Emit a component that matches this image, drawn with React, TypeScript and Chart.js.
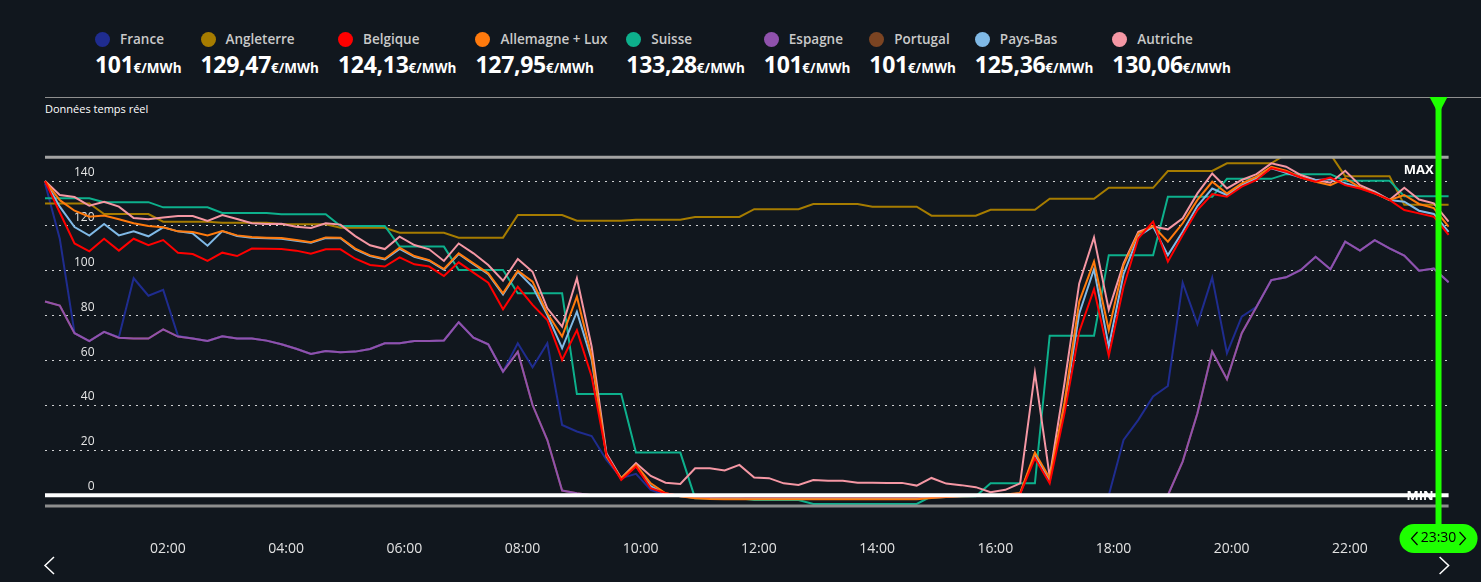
import React, { useEffect, useRef } from 'react';
import { Chart, registerables } from 'chart.js';

Chart.register(...registerables);

// ---------- categories & ticks ----------
const TIMES: string[] = Array.from({ length: 96 }, (_, i) =>
  `${String(Math.floor(i / 4)).padStart(2, '0')}:${String((i % 4) * 15).padStart(2, '0')}`
);
const X_TICKS = ['02:00', '04:00', '06:00', '08:00', '10:00', '12:00', '14:00', '16:00', '18:00', '20:00', '22:00'];
const Y_TICKS = [0, 20, 40, 60, 80, 100, 120, 140];
const Y_MIN = -4.8;
const Y_MAX = 150.6;
const MIN_LINE = 0;
const CURSOR_TIME = '23:30';

const NAMES = ['France', 'Angleterre', 'Belgique', 'Allemagne + Lux', 'Suisse', 'Espagne', 'Portugal', 'Pays-Bas', 'Autriche'];
const COLORS = ['#1f2c8f', '#a67c00', '#ff0000', '#ff7a0d', '#0db08c', '#9052ad', '#7b4422', '#80b9e6', '#f597a4'];
const DRAW_ORDER = [7, 6, 1, 2, 5, 0, 8, 3, 4];

// ---------- series (€/MWh, 15-min steps) ----------
const FRANCE = [
  139, 114.3, 72.2, 68.7, 72.8, 70.4, 96.7, 88.9, 91.5, 71,
  69.8, 68.7, 70.8, 69.8, 69.8, 68.9, 67.3, 65.3, 63, 64.3, 63.7, 64, 65.2, 67.7, 67.7, 68.7, 68.7, 69, 77.1, 70.2, 67.3,
  55.1, 67.7, 57, 67.7, 31.3, 28.4, 26.4, 15.7, 7.6, 9.5, 2.4,
  0, 0, 0, 0, 0, 0, 0, 0, 0, 0, 0, 0, 0, 0, 0, 0, 0, 0, 0, 0, 0, 0, 0, 0, 0, 0, 0, 0, 0, 0, 0,
  24.6, 33.6, 44, 48.7, 94.7, 76.3, 97, 63.3, 79.6, 84,
  95.9, 97.1, 100.4, 106.3, 100.7, 113, 109, 113.7, 110, 106.8, 100.1, 101, 94.9,
];
const ANGLETERRE = [
  130, 130, 130, 130, 125.3, 125.3, 125.3, 125.3, 121.9, 121.9, 121.9, 121.9,
  121.4, 121.4, 121.4, 121.4, 120.8, 120.8, 120.8, 120.8, 119.2, 119.2, 119.2, 119.2,
  117, 117, 117, 117, 114.8, 114.8, 114.8, 114.8, 124.9, 124.9, 124.9, 124.9,
  122.3, 122.3, 122.3, 122.3, 122.8, 122.8, 122.8, 122.8, 124, 124, 124, 124,
  127.5, 127.5, 127.5, 127.5, 129.8, 129.8, 129.8, 129.8, 128.6, 128.6, 128.6, 128.6,
  124.6, 124.6, 124.6, 124.6, 127.2, 127.2, 127.2, 127.2, 132.1, 132.1, 132.1, 132.1,
  137, 137, 137, 137, 144.5, 144.5, 144.5, 144.5, 147.9, 147.9, 147.9, 147.9,
  152, 152, 152, 152, 142.2, 142.2, 142.2, 142.2, 129.47, 129.47, 129.47, 129.47,
];
const BELGIQUE = [
  140, 126, 112.2, 108.7, 114.3, 109, 114.3, 111.4, 113.7, 108.1, 107.5, 104.4, 108.1, 106.6, 109.9, 109.8,
  109.7, 109, 107.6, 109.6, 109.6, 105.4, 102.6, 101.9, 106, 102.9, 101.9, 97.7, 103.8, 99.2, 94.7, 82.9,
  92.9, 84.8, 78.1, 60.3, 73.6, 52.9, 18, 6.8, 12.8, 3.1, 0.9,
  -0.3, -0.5, -0.6, -0.6, -0.6, -0.6, -0.6, -0.6, -0.6, -0.6, -0.6, -0.6, -0.6, -0.6, -0.6, -0.6, -0.6,
  -0.5, -0.4, -0.3, -0.2, 0, 0, 0.5,
  16.5, 5.3, 36.5, 72.9, 91.8, 62.1, 92.9, 114.5, 121.9, 104.1, 116, 127.1, 134.2, 133, 137.5, 140.5,
  145.8, 144.2, 141.6, 139.7, 141.6, 138.2, 136.7, 134.5, 131.6, 127.1, 125.6, 124.13, 116,
];
const ALLEMAGNE = [
  140, 131.5, 126.8, 124.1, 124.7, 123, 121.2, 120, 119.4, 117.6, 117.3, 115.8, 117.7, 115.8, 115.1, 114.8,
  114.6, 113.7, 112.8, 114.9, 114.8, 109.9, 106.9, 105.4, 110.3, 106.6, 104.8, 100.8, 107.8, 103.3, 98.9, 90,
  100.1, 95.2, 81.1, 70.7, 88.5, 61.8, 17.2, 7.6, 13.5, 5.3, 0.9,
  -0.5, -1.4, -1.7, -1.8, -1.8, -1.8, -1.8, -1.8, -1.8, -1.8, -1.8, -1.8, -1.8, -1.8, -1.8, -1.8, -1.8,
  -1.2, -0.8, -0.5, -0.3, 0, 0.3, 1,
  19, 7.6, 41.1, 86.3, 104.1, 73.6, 102.6, 116.7, 120, 113, 121.2, 131.6, 139.7, 134.5, 139, 142,
  146.4, 144.6, 141.6, 139.7, 138.2, 141.2, 137.2, 134.5, 131.6, 133.8, 129.8, 127.95, 119.7,
];
const SUISSE = [
  132.3, 132.3, 132.3, 132.3, 130.6, 130.6, 130.6, 130.6, 128.3, 128.3, 128.3, 128.3,
  125.8, 125.8, 125.8, 125.8, 125.2, 125.2, 125.2, 125.2, 120, 120, 120, 120,
  110.8, 110.8, 110.8, 110.8, 100.4, 100.4, 100.4, 100.4, 90, 90, 90, 90,
  45.1, 45.1, 45.1, 45.1, 19, 19, 19, 19, -1.3, -1.3, -1.3, -1.3,
  -2.1, -2.1, -2.1, -2.1, -3.9, -3.9, -3.9, -3.9, -3.9, -3.9, -3.9, -3.9,
  -0.5, -0.5, -0.5, -0.5, 5.3, 5.3, 5.3, 5.3, 71.1, 71.1, 71.1, 71.1,
  107, 107, 107, 107, 133, 133, 133, 133, 141, 141, 141, 141,
  143.1, 143.1, 143.1, 143.1, 140.2, 140.2, 140.2, 140.2, 133.28, 133.28, 133.28, 133.28,
];
const ESPAGNE = [
  86.3, 84.5, 72.2, 68.7, 72.8, 70.2, 69.8, 69.8, 73.9, 70.7, 69.8, 68.7, 70.8, 69.8, 69.8, 68.9,
  67.3, 65.3, 63, 64.3, 63.7, 64, 65.2, 67.7, 67.7, 68.7, 68.7, 69, 77.1, 70.2, 67.3, 55.1,
  64, 40.2, 24.6, 2.1, 0.9,
  0, 0, 0, 0, 0, 0, 0, 0, 0, 0, 0, 0, 0, 0, 0, 0, 0, 0, 0, 0,
  0, 0, 0, 0, 0, 0, 0, 0, 0, 0, 0, 0, 0, 0, 0, 0, 0, 0, 0, 0,
  15, 36.5, 64, 51.7, 72.2, 84, 95.9, 97.1, 100.4, 106.3, 100.7, 113, 109, 113.7, 110, 106.8,
  100.1, 101, 94.9,
];
const PORTUGAL = [
  86.3, 84.5, 72.2, 68.7, 72.8, 70.2, 69.8, 69.8, 73.9, 70.7, 69.8, 68.7, 70.8, 69.8, 69.8, 68.9,
  67.3, 65.3, 63, 64.3, 63.7, 64, 65.2, 67.7, 67.7, 68.7, 68.7, 69, 77.1, 70.2, 67.3, 55.1,
  64, 40.2, 24.6, 2.1, 0.9,
  0, 0, 0, 0, 0, 0, 0, 0, 0, 0, 0, 0, 0, 0, 0, 0, 0, 0, 0, 0,
  0, 0, 0, 0, 0, 0, 0, 0, 0, 0, 0, 0, 0, 0, 0, 0, 0, 0, 0, 0,
  15, 36.5, 64, 51.7, 72.2, 84, 95.9, 97.1, 100.4, 106.3, 100.7, 113, 109, 113.7, 110, 106.8,
  100.1, 101, 94.9,
];
const PAYS_BAS = [
  140, 128.6, 119.5, 115.7, 120.9, 115.8, 117.6, 115.4, 119.4, 117.6, 116.7, 111.2, 117.7, 115.5, 114.8, 114.5,
  114.3, 113.4, 112.5, 114.6, 114.5, 109.6, 106.6, 105.1, 109.8, 106.3, 104.5, 100.5, 107.5, 103, 98.5, 89.5,
  99.6, 92.9, 80.3, 65.5, 81.8, 60.3, 18, 7.2, 13, 4, 0.5,
  -0.5, -1.1, -1.2, -1.3, -1.3, -1.3, -1.3, -1.3, -1.3, -1.3, -1.3, -1.3, -1.3, -1.3, -1.3, -1.3, -1.3,
  -1, -0.8, -0.5, -0.3, 0, 0.2, 0.8,
  18, 6.5, 39.5, 81, 100.7, 66.2, 98.5, 115.5, 119.7, 107, 117.4, 128.9, 136.7, 133.8, 138.2, 141.2,
  145.7, 143.7, 141.6, 140.5, 140.8, 139, 137, 134.8, 131.6, 130.8, 126.8, 125.36, 117.4,
];
const AUTRICHE = [
  140, 133.8, 132.9, 129, 130.8, 128.6, 123.5, 123, 123.8, 124.4, 124.4, 122.2, 124.9, 123.1, 121.2, 120.9,
  121, 119.7, 119.1, 121.2, 120.6, 115.5, 111.4, 109.7, 115.2, 111.5, 109.6, 104.4, 112.2, 107.8, 102.6, 95.6,
  105.3, 99.6, 83.3, 75.1, 96.7, 66.2, 18.7, 7.6, 14.3, 8.6, 5.6, 5,
  12, 12, 11, 13.5, 7.9, 7.6, 5.3, 4.6, 6.8, 6.5, 6.4, 5.6, 5.6, 5.5, 5.5, 4.3,
  7.7, 5.2, 4.5, 3.6, 1.3, 2.4, 5.3,
  54.6, 8.3, 49.9, 94.4, 114.9, 82.6, 103.3, 117.4, 119.7, 118.5, 123.4, 134.5, 143.4, 136.7, 140.5, 143.1,
  147.9, 146.4, 142.7, 140.5, 139.3, 144.6, 138.2, 135.3, 131.6, 137, 131.8, 130.06, 121.9,
];

const SERIES = [FRANCE, ANGLETERRE, BELGIQUE, ALLEMAGNE, SUISSE, ESPAGNE, PORTUGAL, PAYS_BAS, AUTRICHE];

// ---------- look ----------
const BG = '#11171e';
const GREEN = '#1eff00';
const FONT = "'Open Sans', 'Noto Sans', sans-serif";
const X_SHIFT = 4.7;
const CURSOR_IDX = TIMES.indexOf(CURSOR_TIME);

const fmt = (v: number) => v.toLocaleString('fr-FR', { maximumFractionDigits: 2 });

const overlay = {
  id: 'overlay',
  afterDatasetsDraw(chart: any) {
    const { ctx, chartArea: a, scales } = chart;
    const y0 = scales.y.getPixelForValue(MIN_LINE);
    ctx.save();
    ctx.strokeStyle = '#a3a3a3';
    ctx.lineWidth = 3;
    ctx.beginPath(); ctx.moveTo(a.left, a.top); ctx.lineTo(a.right, a.top); ctx.stroke();
    ctx.strokeStyle = '#8e8e8e';
    ctx.lineWidth = 3;
    ctx.beginPath(); ctx.moveTo(a.left, a.bottom); ctx.lineTo(a.right, a.bottom); ctx.stroke();
    ctx.strokeStyle = '#ffffff';
    ctx.lineWidth = 4;
    ctx.beginPath(); ctx.moveTo(a.left, y0); ctx.lineTo(a.right, y0); ctx.stroke();
    ctx.fillStyle = '#ffffff';
    ctx.font = `bold 13px ${FONT}`;
    ctx.textAlign = 'right';
    ctx.textBaseline = 'middle';
    ctx.fillText('MAX', a.right - 15, a.top + 13);
    ctx.fillText('MIN', a.right - 15, y0 + 1.5);
    ctx.restore();
  },
  afterDraw(chart: any) {
    const { ctx, chartArea: a, scales } = chart;
    const cx = scales.x.getPixelForValue(CURSOR_IDX) + X_SHIFT;
    ctx.save();
    ctx.strokeStyle = '#ffffff';
    ctx.lineWidth = 1.5;
    ctx.beginPath(); ctx.moveTo(a.left + 9, 557); ctx.lineTo(a.left, 565.5); ctx.lineTo(a.left + 9, 574); ctx.stroke();
    ctx.beginPath(); ctx.moveTo(a.right - 9, 557); ctx.lineTo(a.right, 565.5); ctx.lineTo(a.right - 9, 574); ctx.stroke();
    ctx.fillStyle = GREEN;
    ctx.fillRect(cx - 3, 97, 6, 430);
    ctx.beginPath(); ctx.moveTo(cx - 9, 97); ctx.lineTo(cx + 9, 97); ctx.lineTo(cx, 114); ctx.closePath(); ctx.fill();
    const pw = 78, ph = 29, pt = 524;
    ctx.beginPath();
    if (ctx.roundRect) ctx.roundRect(cx - pw / 2, pt, pw, ph, 14.5);
    else ctx.rect(cx - pw / 2, pt, pw, ph);
    ctx.fill();
    ctx.fillStyle = '#000000';
    ctx.font = `14px ${FONT}`;
    ctx.textAlign = 'center';
    ctx.textBaseline = 'middle';
    ctx.fillText(CURSOR_TIME, cx, pt + ph / 2);
    ctx.strokeStyle = '#000000';
    ctx.lineWidth = 1.2;
    ctx.beginPath(); ctx.moveTo(cx - 21, pt + 8); ctx.lineTo(cx - 27, pt + 14.5); ctx.lineTo(cx - 21, pt + 21); ctx.stroke();
    ctx.beginPath(); ctx.moveTo(cx + 21, pt + 8); ctx.lineTo(cx + 27, pt + 14.5); ctx.lineTo(cx + 21, pt + 21); ctx.stroke();
    ctx.restore();
  },
};

export default function App() {
  const ref = useRef<HTMLCanvasElement | null>(null);

  useEffect(() => {
    document.body.style.margin = '0';
    document.body.style.background = BG;
    if (!ref.current) return;
    const chart = new Chart(ref.current, {
      type: 'line',
      data: {
        labels: TIMES,
        datasets: SERIES.map((s, k) => ({
          label: NAMES[k],
          data: s,
          borderColor: COLORS[k],
          backgroundColor: COLORS[k],
          borderWidth: 2,
          pointRadius: 0,
          tension: 0,
          fill: false,
          order: DRAW_ORDER[k],
        })),
      },
      options: {
        animation: false,
        responsive: true,
        maintainAspectRatio: false,
        events: [],
        layout: { padding: { top: 157.3, left: 45, right: 32.4, bottom: 0 } },
        plugins: { legend: { display: false }, tooltip: { enabled: false } },
        scales: {
          x: {
            type: 'category',
            grid: { display: false },
            border: { display: false },
            afterBuildTicks: (s: any) => { s.ticks = X_TICKS.map((t) => ({ value: TIMES.indexOf(t) })); },
            afterFit: (s: any) => { s.height = 76; },
            ticks: {
              autoSkip: false,
              maxRotation: 0,
              labelOffset: X_SHIFT,
              padding: 27,
              color: '#e2e2e2',
              font: { family: FONT, size: 14 },
            },
          },
          y: {
            min: Y_MIN,
            max: Y_MAX,
            afterBuildTicks: (s: any) => { s.ticks = Y_TICKS.map((v) => ({ value: v })); },
            afterFit: (s: any) => { s.width = 0; },
            grid: { color: 'rgba(255,255,255,0.8)', lineWidth: 1, drawTicks: false },
            border: { display: false, dash: [2, 5] },
            ticks: {
              mirror: true,
              crossAlign: 'far',
              padding: 29,
              labelOffset: -8.5,
              color: '#e6e6e6',
              font: { family: FONT, size: 12 },
            },
          },
        },
      } as any,
      plugins: [overlay],
    });
    return () => chart.destroy();
  }, []);

  return (
    <div style={{ position: 'fixed', left: 0, top: 0, width: 1481, height: 582, background: BG, overflow: 'hidden', fontFamily: FONT }}>
      <div style={{ position: 'absolute', left: 95, top: 31, display: 'flex', gap: 19 }}>
        {NAMES.map((n, k) => (
          <div key={n} style={{ display: 'flex', flexDirection: 'column' }}>
            <div style={{ display: 'flex', alignItems: 'center', height: 16 }}>
              <span style={{ width: 15, height: 15, borderRadius: '50%', background: COLORS[k], marginRight: 10, flex: 'none' }} />
              <span style={{ fontSize: 13.5, fontWeight: 600, color: '#c9c9c9', whiteSpace: 'nowrap' }}>{n}</span>
            </div>
            <div style={{ marginTop: 4, height: 26, lineHeight: '26px', whiteSpace: 'nowrap', color: '#ffffff', fontWeight: 700 }}>
              <span style={{ fontSize: 23, letterSpacing: -0.3 }}>{fmt(SERIES[k][CURSOR_IDX])}</span>
              <span style={{ fontSize: 13.5 }}>€/MWh</span>
            </div>
          </div>
        ))}
      </div>
      <div style={{ position: 'absolute', left: 45, right: 0, top: 97, height: 1, background: '#8f8f8f' }} />
      <div style={{ position: 'absolute', left: 45, top: 101, fontSize: 11, color: '#ffffff', whiteSpace: 'nowrap' }}>Données temps réel</div>
      <div style={{ position: 'absolute', left: 0, top: 0, width: 1481, height: 582 }}>
        <canvas ref={ref} />
      </div>
    </div>
  );
}
